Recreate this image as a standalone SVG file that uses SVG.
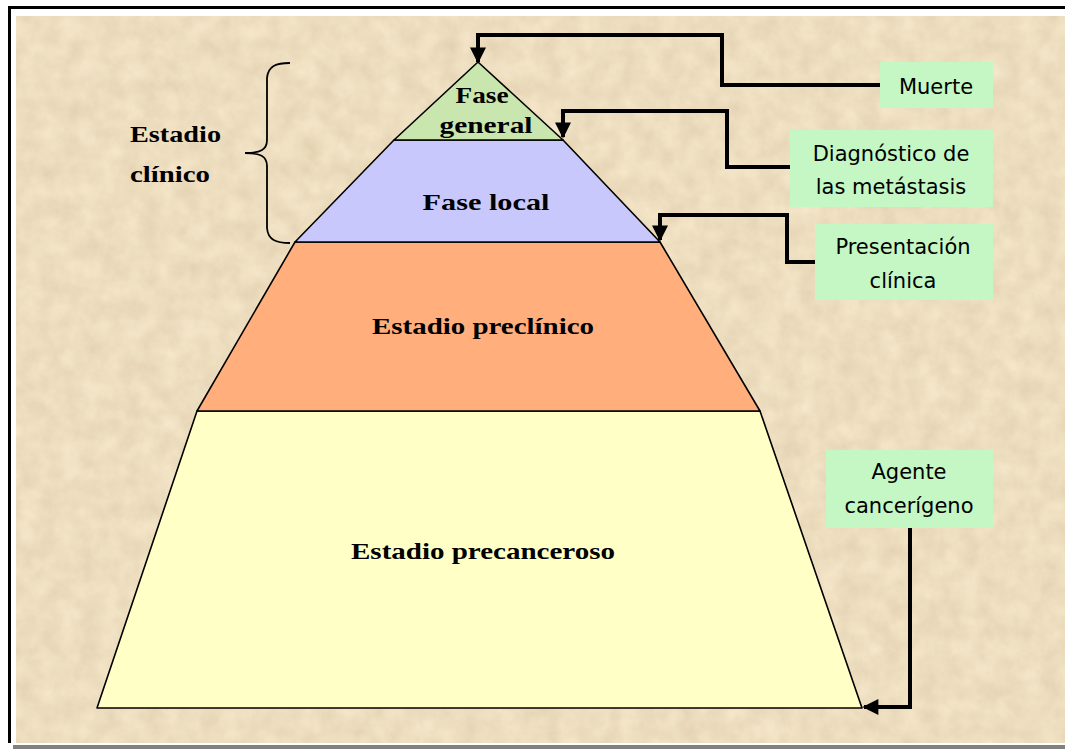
<svg xmlns="http://www.w3.org/2000/svg" width="1065" height="749" viewBox="0 0 1065 749">
<defs>
<filter id="parch" x="0" y="0" width="100%" height="100%">
<feTurbulence type="fractalNoise" baseFrequency="0.05" numOctaves="4" seed="3" result="n"/>
<feColorMatrix in="n" type="matrix" values="0.35 0 0 0 0.70  0.35 0 0 0 0.60  0.35 0 0 0 0.44  0 0 0 0 0.55" result="c"/>
<feComposite in="c" in2="SourceGraphic" operator="in"/>
</filter>
<marker id="ah" viewBox="0 0 10 10" refX="9" refY="5" markerWidth="4.2" markerHeight="4" orient="auto" markerUnits="strokeWidth">
<path d="M0,0 L10,5 L0,10 z" fill="#000"/>
</marker>
<style>
.conn{fill:none;stroke:#000;stroke-width:4;stroke-linejoin:miter}
.lvl{stroke:#000;stroke-width:1.6;stroke-linejoin:round}
.pt{font-family:"Liberation Serif","Times New Roman",serif;font-weight:bold;font-size:24px;fill:#000;text-anchor:middle}
.box{fill:#c4f7c4}
.bt{font-family:"DejaVu Sans","Liberation Sans",sans-serif;font-size:21px;fill:#000;text-anchor:middle}
</style>
</defs>
<rect x="0" y="0" width="1065" height="749" fill="#fff"/>
<g id="background">
<rect x="16" y="16" width="1049" height="727" fill="#ead6ae"/>
<rect x="16" y="16" width="1049" height="727" fill="#ead6ae" filter="url(#parch)"/>
<line x1="8" y1="7.5" x2="1065" y2="7.5" stroke="#000" stroke-width="3"/>
<line x1="9.5" y1="6" x2="9.5" y2="743" stroke="#000" stroke-width="3"/>
<rect x="13" y="745" width="1052" height="4" fill="#808080"/>
</g>
<g id="estadio-precanceroso">
<polygon class="lvl" points="197,411 760,411 862,708 97,708" fill="#ffffc6"/>
<text class="pt" x="483" y="559" textLength="264" lengthAdjust="spacingAndGlyphs">Estadio precanceroso</text>
</g>
<g id="estadio-preclinico">
<polygon class="lvl" points="295,242 660,242 760,411 197,411" fill="#ffae7c"/>
<text class="pt" x="483" y="334" textLength="222" lengthAdjust="spacingAndGlyphs">Estadio preclínico</text>
</g>
<g id="fase-local">
<polygon class="lvl" points="394,140 563,140 660,242 295,242" fill="#c8c8fc"/>
<text class="pt" x="486" y="210" textLength="127" lengthAdjust="spacingAndGlyphs">Fase local</text>
</g>
<g id="fase-general">
<polygon class="lvl" points="478,62 563,140 394,140" fill="#c9e6ae"/>
<text class="pt" x="482" y="103" textLength="53" lengthAdjust="spacingAndGlyphs">Fase</text>
<text class="pt" x="486" y="133" textLength="93" lengthAdjust="spacingAndGlyphs">general</text>
</g>
<g id="estadio-clinico">
<path d="M290,63 C276,63 268,66 267,78 L267,140 C267,150 260,153 245,153 C260,153 267,156 267,166 L267,228 C268,240 276,243 290,243" fill="none" stroke="#000" stroke-width="1.8"/>
<text class="pt" x="130" y="142" style="text-anchor:start" textLength="91" lengthAdjust="spacingAndGlyphs">Estadio</text>
<text class="pt" x="130" y="182" style="text-anchor:start" textLength="80" lengthAdjust="spacingAndGlyphs">clínico</text>
</g>
<g id="muerte">
<rect class="box" x="880" y="62" width="113" height="46"/>
<text class="bt" x="936" y="94">Muerte</text>
</g>
<g id="diagnostico">
<rect class="box" x="790" y="130" width="203" height="77"/>
<text class="bt" x="891" y="161">Diagnóstico de</text>
<text class="bt" x="891" y="194">las metástasis</text>
</g>
<g id="presentacion">
<rect class="box" x="815" y="224" width="178" height="76"/>
<text class="bt" x="903" y="254">Presentación</text>
<text class="bt" x="903" y="288">clínica</text>
</g>
<g id="agente">
<rect class="box" x="826" y="450" width="167" height="78"/>
<text class="bt" x="909" y="479">Agente</text>
<text class="bt" x="909" y="513">cancerígeno</text>
</g>
<g id="connectors">
<polyline class="conn" points="880,85 722,85 722,35 478,35 478,62" marker-end="url(#ah)"/>
<polyline class="conn" points="790,167 727,167 727,111 563,111 563,137" marker-end="url(#ah)"/>
<polyline class="conn" points="815,262 787,262 787,215 660,215 660,240" marker-end="url(#ah)"/>
<polyline class="conn" points="910,528 910,707 864,707" marker-end="url(#ah)"/>
</g>
</svg>
